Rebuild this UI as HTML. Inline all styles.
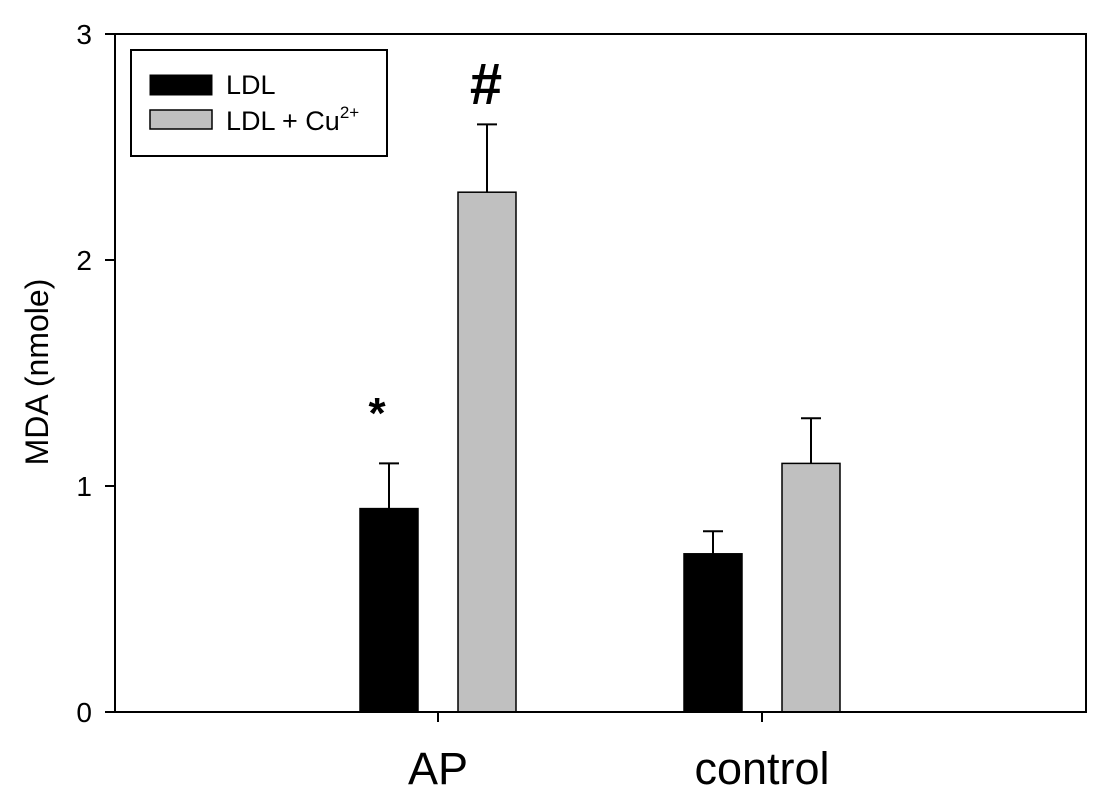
<!DOCTYPE html>
<html><head><meta charset="utf-8"><style>
body{margin:0;background:#fff;}
svg{display:block;font-family:"Liberation Sans",sans-serif;}
</style></head><body>
<svg id="chart" width="1110" height="807">
<rect x="0" y="0" width="1110" height="807" fill="#fff"/>
<g id="bars"></g>
<rect x="115" y="34" width="971" height="678" fill="none" stroke="#000" stroke-width="2"/>
<g id="axes"></g>
<text x="0" y="0" transform="translate(48,372) rotate(-90)" text-anchor="middle" font-size="32">MDA (nmole)</text>
<g>
<rect x="131" y="50" width="256" height="106" fill="#fff" stroke="#000" stroke-width="2"/>
<rect x="150" y="75" width="62" height="20" fill="#000" stroke="#000"/>
<text x="226" y="94" font-size="27">LDL</text>
<rect x="150" y="110" width="62" height="19" fill="#c0c0c0" stroke="#000" stroke-width="1.5"/>
<text x="226" y="130" font-size="27">LDL + Cu<tspan font-size="17" dy="-12">2+</tspan></text>
</g>
<text x="486" y="104" text-anchor="middle" font-size="58" font-weight="bold">#</text>
<text x="377" y="428" text-anchor="middle" font-size="44" font-weight="bold">*</text>
</svg>
<script>
const categories=["AP","control"];
const ldl=[0.9,0.7];
const ldlErr=[0.2,0.1];
const ldlCu=[2.3,1.1];
const ldlCuErr=[0.3,0.2];
const yTicks=[0,1,2,3];
const NS="http://www.w3.org/2000/svg";
const y=v=>712-v*(678/3);
const catX=i=>438+i*324;
const bw=58;
const bars=document.getElementById('bars');
const axes=document.getElementById('axes');
function mk(tag,attrs,parent){const e=document.createElementNS(NS,tag);for(const k in attrs)e.setAttribute(k,attrs[k]);parent.appendChild(e);return e;}
categories.forEach((c,i)=>{
  const cx=catX(i);
  [[ldl,ldlErr,"#000",cx-78,"ldl"],[ldlCu,ldlCuErr,"#c0c0c0",cx+20,"ldl-cu"]].forEach(([vals,errs,fill,x,nm])=>{
    const top=y(vals[i]),et=y(vals[i]+errs[i]);
    const ln=mk('line',{x1:x+bw/2,x2:x+bw/2,y1:top,y2:et,stroke:"#000","stroke-width":2},bars);
    
    
    const cap=mk('line',{x1:x+bw/2-10,x2:x+bw/2+10,y1:et,y2:et,stroke:"#000","stroke-width":2},bars);
    
    
    const r=mk('rect',{x:x,y:top,width:bw,height:712-top,fill:fill,stroke:"#000","stroke-width":1.5},bars);
    
    
  });
  const t=mk('line',{x1:cx,x2:cx,y1:712,y2:722,stroke:"#000","stroke-width":2},axes);
  
  
  const l=mk('text',{x:cx,y:784,"text-anchor":"middle","font-size":45},axes);
  l.textContent=c;
  
  
});
yTicks.forEach(v=>{
  const t=mk('line',{x1:105,x2:115,y1:y(v),y2:y(v),stroke:"#000","stroke-width":2},axes);
  
  
  const l=mk('text',{x:92,y:y(v)+10,"text-anchor":"end","font-size":28},axes);
  l.textContent=v;
  
  
});
</script>
</body></html>
